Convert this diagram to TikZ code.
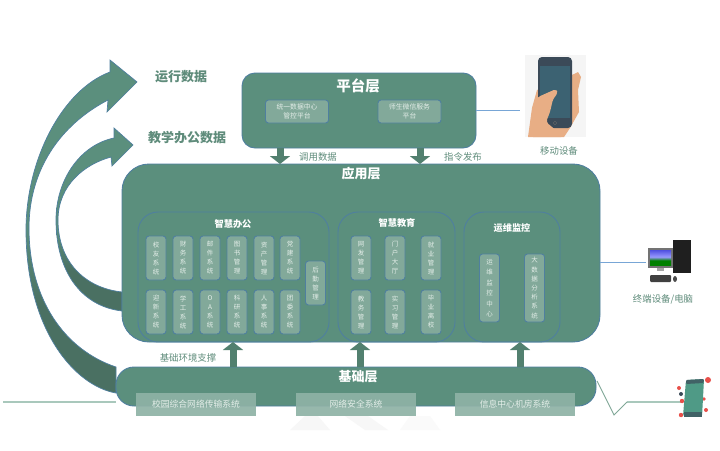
\documentclass[tikz,border=0pt]{standalone}
\usepackage{fontspec}
\setmainfont{Noto Sans CJK SC}
\usetikzlibrary{arrows.meta}
\definecolor{mainG}{HTML}{5B8F7D}
\definecolor{darkG}{HTML}{4A7062}
\definecolor{edgeB}{HTML}{4F7F9F}
\definecolor{subG}{HTML}{82A99A}
\definecolor{baseB}{HTML}{8FB2A6}
\definecolor{softT}{HTML}{E4EEE9}
\definecolor{labelG}{HTML}{5F8C7B}
\definecolor{cable}{HTML}{78A6D6}
\definecolor{wireG}{HTML}{A9C8BC}
\definecolor{skin}{HTML}{E8AE85}
\definecolor{phoneBody}{HTML}{3B4A58}
\definecolor{phoneScreen}{HTML}{3C6272}
\definecolor{zigG}{HTML}{7FA797}
\definecolor{deviceG}{HTML}{4F9A86}
\definecolor{deviceR}{HTML}{E8504A}
\definecolor{arrowG}{HTML}{52806F}
\pgfdeclareverticalshading{arcA}{100bp}{color(0bp)=(darkG); color(38bp)=(darkG); color(50bp)=(mainG); color(100bp)=(mainG)}
\pgfdeclareverticalshading{arcB}{100bp}{color(0bp)=(darkG); color(36bp)=(darkG); color(47bp)=(mainG); color(100bp)=(mainG)}
\pgfdeclareverticalshading{skyS}{100bp}{color(0bp)=(green!50!black); color(40bp)=(green!50!black); color(52bp)=(blue!40!white); color(100bp)=(blue!75!black)}
\tikzset{
 x=1pt,y=-1pt,
 layerbox/.style={draw=edgeB,line width=.9pt,fill=mainG,inner sep=0pt,outer sep=0pt},
 groupbox/.style={draw=edgeB,line width=.9pt,rounded corners=20pt,inner sep=0pt,outer sep=0pt},
 itembox/.style={draw=edgeB,line width=.9pt,fill=subG,rounded corners=3pt,minimum width=20pt,minimum height=44pt,inner sep=0pt,align=center,text=softT,font=\fontsize{6.5}{9}\selectfont},
 tallbox/.style={itembox,minimum height=68pt},
 wideitem/.style={draw=edgeB,line width=.9pt,fill=subG,rounded corners=3pt,minimum width=63pt,minimum height=23pt,inner sep=0pt,align=center,text=softT,font=\fontsize{6.8}{9}\selectfont},
 basebox/.style={fill=baseB,fill opacity=.92,text opacity=1,minimum width=120pt,minimum height=23pt,inner sep=0pt,text=softT,font=\fontsize{8.8}{10}\selectfont},
 layertitle/.style={text=white,font=\bfseries\fontsize{14.5}{16}\selectfont,inner sep=0pt},
 grouptitle/.style={text=white,font=\bfseries\fontsize{9.2}{10}\selectfont,inner sep=0pt},
 sidetext/.style={text=labelG,font=\fontsize{9.4}{10}\selectfont,inner sep=0pt},
 datatext/.style={text=labelG,font=\bfseries\fontsize{13}{14}\selectfont,inner sep=0pt},
 bigarrow/.style={line width=7pt,draw=arrowG,-{Triangle[length=8pt,width=20pt,fill=arrowG]}},
 cableline/.style={draw=cable,line width=1pt},
 wireline/.style={draw=wireG,line width=1.4pt},
 zigline/.style={draw=zigG,line width=.9pt},
 arcshape/.style={draw=edgeB,line width=.7pt}
}
\begin{document}
\begin{tikzpicture}
\useasboundingbox (0,0) rectangle (720,450);
\fill[white] (0,0) rectangle (720,450);
% faint watermark
\fill[black!3] (290,430) -- (305,416) -- (318,416) -- (330,430) -- cycle;
\fill[black!3] (365,430) -- (345,416) -- (368,416) -- (388,430) -- cycle;
\fill[black!2] (400,430) -- (410,416) -- (430,416) -- (440,430) -- cycle;
% wires
\coordinate (wireL) at (3,402);
\coordinate (wireR) at (681,402);
\coordinate (zigA) at (597,381);
\coordinate (zigB) at (614,415);
\coordinate (zigC) at (627,402);
\draw[wireline] (wireL) -- (116,402);
\draw[wireline] (zigC) -- (wireR);
\draw[zigline] (zigA) -- (zigB) -- (zigC);
% curved arrows
\path[arcshape,shading=arcA]
 (116,393) .. controls (75,386) and (26,330) .. (26,230)
 .. controls (26,160) and (62,90) .. (110,72)
 -- (110,60) -- (137,82) -- (107,112) -- (108,100)
 .. controls (60,125) and (29,170) .. (29,228)
 .. controls (29,300) and (65,350) .. (116,367) -- cycle;
\path[arcshape,shading=arcB]
 (122,311) .. controls (80,306) and (56,270) .. (56,220)
 .. controls (56,180) and (80,145) .. (114,138)
 -- (114,128) -- (133,145) -- (112,166) -- (111,157)
 .. controls (85,164) and (58,185) .. (58,220)
 .. controls (58,262) and (85,288) .. (122,292) -- cycle;
\node[datatext] (dataA) at (181,77) {运行数据};
\node[datatext] (dataB) at (187,138) {教学办公数据};
% layers
\node[layerbox,rounded corners=13pt,minimum width=234pt,minimum height=75pt] (plat) at (359,110.5) {};
\node[layertitle] (platT) at (358,85.5) {平台层};
\node[wideitem] (p1) at (297,111.5) {统一数据中心\\管控平台};
\node[wideitem] (p2) at (409.5,111.5) {师生微信服务\\平台};
\node[layerbox,rounded corners=27pt,minimum width=478pt,minimum height=178pt] (app) at (361,253) {};
\node[layertitle,font=\bfseries\fontsize{13}{14}\selectfont] (appT) at (361,174) {应用层};
% groups
\node[groupbox,minimum width=191pt,minimum height=130pt] (g1) at (233.5,277) {};
\node[grouptitle] (g1T) at (233,224) {智慧办公};
\node[groupbox,minimum width=117pt,minimum height=130pt] (g2) at (396.5,277) {};
\node[grouptitle] (g2T) at (397,223) {智慧教育};
\node[groupbox,minimum width=96pt,minimum height=130pt] (g3) at (512,277) {};
\node[grouptitle] (g3T) at (512,228) {运维监控};
% group 1 items
\node[itembox] (a1) at (156,258) {校\\友\\系\\统};
\node[itembox] (a2) at (183,258) {财\\务\\系\\统};
\node[itembox] (a3) at (210,258) {邮\\件\\系\\统};
\node[itembox] (a4) at (237,258) {图\\书\\管\\理};
\node[itembox] (a5) at (264,258) {资\\产\\管\\理};
\node[itembox] (a6) at (290,258) {党\\建\\系\\统};
\node[itembox] (b1) at (156,312) {迎\\新\\系\\统};
\node[itembox] (b2) at (183,312) {学\\工\\系\\统};
\node[itembox] (b3) at (210,312) {O\\A\\系\\统};
\node[itembox] (b4) at (237,312) {科\\研\\系\\统};
\node[itembox] (b5) at (264,312) {人\\事\\系\\统};
\node[itembox] (b6) at (290,312) {团\\委\\系\\统};
\node[itembox] (c1) at (315.5,283) {后\\勤\\管\\理};
% group 2 items
\node[itembox] (d1) at (361,258) {网\\发\\管\\理};
\node[itembox] (d2) at (395,258) {门\\户\\大\\厅};
\node[itembox] (d3) at (431,258) {就\\业\\管\\理};
\node[itembox] (e1) at (361,312) {教\\务\\管\\理};
\node[itembox] (e2) at (395,312) {实\\习\\管\\理};
\node[itembox] (e3) at (431,312) {毕\\业\\离\\校};
% group 3 items
\node[tallbox,font=\fontsize{6.5}{10.5}\selectfont] (f1) at (489.5,288) {运\\维\\监\\控\\中\\心};
\node[tallbox,font=\fontsize{6.5}{9.2}\selectfont] (f2) at (534.5,288) {大\\数\\据\\分\\析\\系\\统};
% base layer
\node[layerbox,rounded corners=18pt,minimum width=480pt,minimum height=39pt] (base) at (356,386.5) {};
\node[layertitle,font=\bfseries\fontsize{13}{14}\selectfont] (baseT) at (358,377) {基础层};
\node[basebox] (n1) at (196,404.5) {校园综合网络传输系统};
\node[basebox] (n2) at (356,404.5) {网络安全系统};
\node[basebox] (n3) at (515,404.5) {信息中心机房系统};
% arrows
\coordinate (ax1) at (280,156);
\coordinate (ax2) at (420,156);
\draw[bigarrow] (ax1 |- plat.south) -- (ax1 |- app.north);
\draw[bigarrow] (ax2 |- plat.south) -- (ax2 |- app.north);
\coordinate (bx1) at (233,355);
\coordinate (bx2) at (360,355);
\coordinate (bx3) at (520,355);
\draw[bigarrow] (bx1 |- base.north) -- (bx1 |- app.south);
\draw[bigarrow] (bx2 |- base.north) -- (bx2 |- app.south);
\draw[bigarrow] (bx3 |- base.north) -- (bx3 |- app.south);
\node[sidetext] (call) at (318,157) {调用数据};
\node[sidetext] (cmd) at (463,157) {指令发布};
\node[sidetext] (env) at (188,358) {基础环境支撑};
% phone
\node[fill=black!4,minimum width=61pt,minimum height=82pt,inner sep=0pt] (phone) at (555.5,96) {};
\coordinate (phoneEnd) at (520,110);
\draw[cableline] (plat.east) -- (phoneEnd |- plat.east);
\fill[skin] (528,137) -- (532,108) -- (537,90) -- (574,74) -- (578,72) -- (581,77) -- (578,90) -- (579,112) -- (570,128) -- (564,137) -- cycle;
\fill[phoneBody,rounded corners=4pt] (538,57) rectangle (572,128);
\fill[phoneScreen] (540,66) rectangle (570,118);
\draw[black!60,line width=.4pt] (555,123) circle (1.8);
\fill[skin,rounded corners=3pt] (530,137) -- (533,104) -- (538,97) -- (556,89) -- (558,93) -- (553,99) -- (550,112) -- (546,122) -- (564,137) -- cycle;
\node[sidetext] (phoneT) at (559,151) {移动设备};
% computer
\coordinate (pcEnd) at (646,262);
\draw[cableline] (app.east |- pcEnd) -- (pcEnd);
\node[fill=black!88,minimum width=18pt,minimum height=33pt,inner sep=0pt] (tower) at (682,256) {};
\node[fill=black!55,minimum width=25pt,minimum height=20pt,inner sep=0pt] (monitor) at (660.5,258) {};
\shade[shading=skyS] (650,250) rectangle (671,265);
\fill[black!35] (657,268) rectangle (664,271);
\fill[black!75,rounded corners=1pt] (650,275) rectangle (671,282);
\fill[black!70] (675,279) ellipse (2 and 3);
\node[sidetext] (pcT) at (663,299) {终端设备/电脑};
% device
\fill[deviceR] (679,388) circle (2) (682,401) circle (2.2) (708,380) circle (3) (704,399) circle (1.8) (681,415) circle (2.2) (706,410) circle (2);
\fill[deviceG,rounded corners=2pt] (686,380) -- (704,379) -- (702,417) -- (683,416) -- cycle;
\fill[phoneBody!70!deviceG,rounded corners=1pt] (686,380) -- (704,379) -- (703.5,383) -- (686,384) -- cycle;
\fill[phoneBody] (681,394) circle (2);
\fill[phoneBody!70!deviceG] (684,412) rectangle (702,417);
\end{tikzpicture}
\end{document}
